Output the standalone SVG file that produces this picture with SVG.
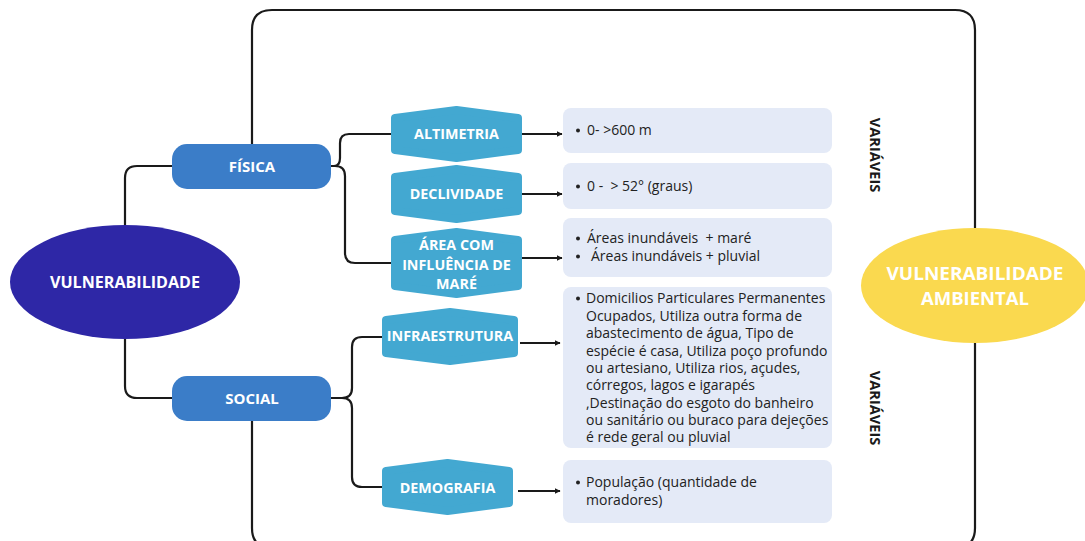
<svg xmlns="http://www.w3.org/2000/svg" width="1085" height="541" viewBox="0 0 1085 541">
<style>
.ln{fill:none;stroke:#1a1a1a;stroke-width:2.2;stroke-linecap:round;stroke-linejoin:round}
.ar{fill:none;stroke:#1a1a1a;stroke-width:2.2;marker-end:url(#ah)}
.hex{fill:#43A8D1;stroke:#43A8D1;stroke-width:8;stroke-linejoin:round}
.pill{fill:#3B7DC8}
.box{fill:#E4EAF7}
.lbl{font-family:"Open Sans","Liberation Sans",sans-serif;font-weight:700;fill:#ffffff;text-anchor:middle}
.hl{font-size:14.3px}
.body{font-family:"Open Sans","Liberation Sans",sans-serif;font-size:14px;fill:#222222}
.var{font-family:"Open Sans","Liberation Sans",sans-serif;font-weight:700;font-size:14.6px;fill:#1a1a1a;text-anchor:middle}
.dot{fill:#222222}
</style>
<defs>
<marker id="ah" viewBox="0 0 10 10" refX="9" refY="5" markerWidth="6" markerHeight="6" orient="auto" markerUnits="userSpaceOnUse">
<path d="M0,0 L10,5 L0,10 z" fill="#1a1a1a"/>
</marker>
</defs>
<rect width="1085" height="541" fill="#ffffff"/>

<g id="connectors">
<path class="ln" d="M252,144 V30 Q252,10 272,10 H955 Q975,10 975,30 V229"/>
<path class="ln" d="M975,342 V528 Q975,548 955,548 H272 Q252,548 252,528 V421"/>
<path class="ln" d="M125,226 V178 Q125,166 137,166 H173"/>
<path class="ln" d="M125,338 V386 Q125,398 137,398 H173"/>
<path class="ln" d="M331,166 H334 Q340,166 340,158 V143 Q340,134 349,134 H391"/>
<path class="ln" d="M331,166 H335 Q345,166 345,176 V253 Q345,263 355,263 H391"/>
<path class="ln" d="M331,398 H342 Q352,398 352,388 V347 Q352,337 362,337 H382"/>
<path class="ln" d="M331,398 H342 Q352,398 352,408 V477 Q352,487 362,487 H382"/>
<path class="ar" d="M522,134 H562"/>
<path class="ar" d="M522,194 H562"/>
<path class="ar" d="M522,258 H562"/>
<path class="ar" d="M520,343 H560"/>
<path class="ar" d="M518,491 H560"/>
</g>

<g id="vulnerabilidade">
<ellipse cx="125" cy="282" rx="115" ry="57" fill="#2E27A6"/>
<text class="lbl" x="125" y="288" font-size="16" textLength="150" lengthAdjust="spacingAndGlyphs">VULNERABILIDADE</text>
</g>

<g id="vulnerabilidade-ambiental">
<ellipse cx="975" cy="285.5" rx="114" ry="57.5" fill="#FAD94F"/>
<text class="lbl" x="975" y="280" font-size="18.5" textLength="177" lengthAdjust="spacingAndGlyphs">VULNERABILIDADE</text>
<text class="lbl" x="975" y="305" font-size="18.5">AMBIENTAL</text>
</g>

<g id="fisica">
<rect class="pill" x="172" y="144" width="159" height="45" rx="15"/>
<text class="lbl" x="252" y="171.5" font-size="15">FÍSICA</text>
</g>

<g id="social">
<rect class="pill" x="172" y="376" width="159" height="45" rx="15"/>
<text class="lbl" x="252" y="403.5" font-size="15">SOCIAL</text>
</g>

<g id="altimetria">
<path class="hex" d="M395,118 L456.5,110 L518,118 L518,150 L456.5,158 L395,150 Z"/>
<text class="lbl hl" x="456.5" y="139">ALTIMETRIA</text>
</g>

<g id="declividade">
<path class="hex" d="M395,177 L456.5,169 L518,177 L518,211 L456.5,219 L395,211 Z"/>
<text class="lbl hl" x="456.5" y="199">DECLIVIDADE</text>
</g>

<g id="area-mare">
<path class="hex" d="M395,240 L456.5,232 L518,240 L518,286 L456.5,294 L395,286 Z"/>
<text class="lbl hl" x="456.5" y="250">ÁREA COM</text>
<text class="lbl hl" x="456.5" y="270">INFLUÊNCIA DE</text>
<text class="lbl hl" x="456.5" y="289">MARÉ</text>
</g>

<g id="infraestrutura">
<path class="hex" d="M386,320 L450,312 L514,320 L514,353 L450,361 L386,353 Z"/>
<text class="lbl hl" x="450" y="341">INFRAESTRUTURA</text>
</g>

<g id="demografia">
<path class="hex" d="M386,471 L447.5,463 L509,471 L509,503 L447.5,511 L386,503 Z"/>
<text class="lbl hl" x="447.5" y="493">DEMOGRAFIA</text>
</g>

<g id="box-altimetria">
<rect class="box" x="563" y="108" width="269" height="45" rx="8"/>
<circle class="dot" cx="578" cy="130.5" r="2"/>
<text class="body" x="587" y="135">0- &gt;600 m</text>
</g>

<g id="box-declividade">
<rect class="box" x="563" y="163" width="269" height="46" rx="8"/>
<circle class="dot" cx="578" cy="186.5" r="2"/>
<text class="body" x="587" y="191" xml:space="preserve">0 -  &gt; 52° (graus)</text>
</g>

<g id="box-area">
<rect class="box" x="563" y="218" width="269" height="59" rx="8"/>
<circle class="dot" cx="578" cy="238.5" r="2"/>
<text class="body" x="587" y="243" xml:space="preserve">Áreas inundáveis  + maré</text>
<circle class="dot" cx="578" cy="256.5" r="2"/>
<text class="body" x="591" y="261">Áreas inundáveis + pluvial</text>
</g>

<g id="box-infraestrutura">
<rect class="box" x="563" y="287" width="269" height="161" rx="8"/>
<circle class="dot" cx="578" cy="298.5" r="2"/>
<text class="body" x="586" y="303">Domicilios Particulares Permanentes</text>
<text class="body" x="586" y="321">Ocupados, Utiliza outra forma de</text>
<text class="body" x="586" y="338">abastecimento de água, Tipo de</text>
<text class="body" x="586" y="356">espécie é casa, Utiliza poço profundo</text>
<text class="body" x="586" y="373">ou artesiano, Utiliza rios, açudes,</text>
<text class="body" x="586" y="390">córregos, lagos e igarapés</text>
<text class="body" x="586" y="408">,Destinação do esgoto do banheiro</text>
<text class="body" x="586" y="425">ou sanitário ou buraco para dejeções</text>
<text class="body" x="586" y="442">é rede geral ou pluvial</text>
</g>

<g id="box-demografia">
<rect class="box" x="563" y="460" width="269" height="63" rx="8"/>
<circle class="dot" cx="578" cy="482.5" r="2"/>
<text class="body" x="586" y="487">População (quantidade de</text>
<text class="body" x="586" y="505">moradores)</text>
</g>

<g id="variaveis-1">
<text class="var" transform="translate(875,155) rotate(90)" x="0" y="5">VARIÁVEIS</text>
</g>
<g id="variaveis-2">
<text class="var" transform="translate(875,408) rotate(90)" x="0" y="5">VARIÁVEIS</text>
</g>
</svg>
